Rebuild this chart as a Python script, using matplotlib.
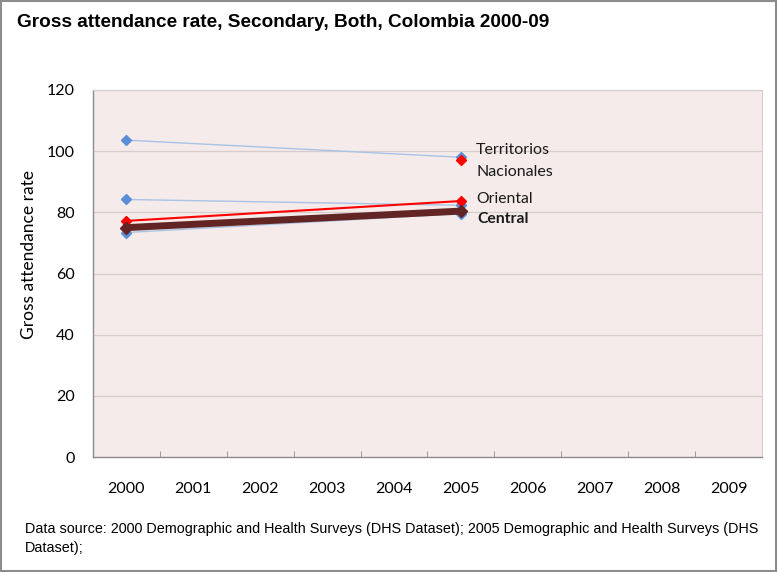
import numpy as np
import matplotlib
matplotlib.use("Agg")
import matplotlib.pyplot as plt
from matplotlib.patches import Rectangle

# Survey years on the category axis
years = ["2000", "2001", "2002", "2003", "2004", "2005", "2006", "2007", "2008", "2009"]

# Gross attendance rate, secondary level, by region (NaN = no survey that year)
other_region_1 = [103.6, np.nan, np.nan, np.nan, np.nan, 98.0, np.nan, np.nan, np.nan, np.nan]
other_region_2 = [84.2, np.nan, np.nan, np.nan, np.nan, 82.3, np.nan, np.nan, np.nan, np.nan]
other_region_3 = [73.4, np.nan, np.nan, np.nan, np.nan, 79.6, np.nan, np.nan, np.nan, np.nan]
territorios = [np.nan, np.nan, np.nan, np.nan, np.nan, 97.1, np.nan, np.nan, np.nan, np.nan]
oriental = [77.2, np.nan, np.nan, np.nan, np.nan, 83.7, np.nan, np.nan, np.nan, np.nan]
central = [75.0, np.nan, np.nan, np.nan, np.nan, 80.4, np.nan, np.nan, np.nan, np.nan]

y_ticks = [0, 20, 40, 60, 80, 100, 120]

body_font = "Lato"
head_font = "Liberation Sans"

fig = plt.figure(figsize=(7.78, 5.72), dpi=100)
fig.patch.set_facecolor("white")
fig.patches.append(Rectangle((0.001, 0.001), 0.997, 0.997, transform=fig.transFigure,
                             fill=False, edgecolor="#8c8c8c", linewidth=1.5))

ax = fig.add_axes([0.1195, 0.2010, 0.8599, 0.6417])
ax.set_facecolor("#F5EBEB")

x = np.arange(len(years))


def connect(vals):
    """Plot only the years that have data, so the segments join across gaps."""
    v = np.array(vals, dtype=float)
    m = ~np.isnan(v)
    return x[m], v[m]


for series in (other_region_1, other_region_2, other_region_3):
    xs, ys = connect(series)
    ax.plot(xs, ys, color="#A9C3E6", linewidth=1.0, marker="D", markersize=5.2,
            markerfacecolor="#5A8ED6", markeredgecolor="#5A8ED6", zorder=3)

xs, ys = connect(territorios)
ax.plot(xs, ys, color="#FF0000", linewidth=1.5, marker="D", markersize=5.6,
        markerfacecolor="#FF0000", markeredgecolor="#FF0000", zorder=4)

xs, ys = connect(oriental)
ax.plot(xs, ys, color="#FF0000", linewidth=1.5, marker="D", markersize=5.6,
        markerfacecolor="#FF0000", markeredgecolor="#FF0000", zorder=4)

xs, ys = connect(central)
ax.plot(xs, ys, color="#632523", linewidth=5, marker="D", markersize=6,
        markerfacecolor="#632523", markeredgecolor="#632523", zorder=5)

# Series labels next to the last data point
ax.annotate("Territorios\nNacionales", (5, territorios[5]), xytext=(11, -1),
            textcoords="offset points", ha="left", va="center", fontsize=11.5,
            family=body_font, linespacing=1.72, color="#1a1a1a")
ax.annotate("Oriental", (5, oriental[5]), xytext=(11, 1.5),
            textcoords="offset points", ha="left", va="center", fontsize=11.3,
            family=body_font, color="#1a1a1a")
ax.annotate("Central", (5, central[5]), xytext=(12, -6),
            textcoords="offset points", ha="left", va="center", fontsize=11.3,
            family=body_font, fontweight="bold", color="#1a1a1a")

ax.set_xlim(-0.5, len(years) - 0.5)
ax.set_ylim(0, 120)
ax.set_yticks(y_ticks)
ax.set_yticklabels([str(t) for t in y_ticks], family=body_font, fontsize=11.5)
ax.set_xticks(x)
ax.set_xticklabels(years, family=body_font, fontsize=11.5)
ax.set_xticks(np.arange(-0.5, len(years)), minor=True)
ax.tick_params(axis="x", which="major", length=0, pad=18)
ax.tick_params(axis="x", which="minor", length=4, direction="in", color="#8c8c8c")
ax.tick_params(axis="y", length=0, pad=13)

ax.yaxis.grid(True, color="#D8CCCC", linewidth=0.9)
ax.set_axisbelow(True)
for side in ("top", "right"):
    ax.spines[side].set_color("#D8CCCC")
    ax.spines[side].set_linewidth(0.8)
for side in ("left", "bottom"):
    ax.spines[side].set_color("#8c8c8c")
    ax.spines[side].set_linewidth(1.0)

ax.set_ylabel("Gross attendance rate", family=body_font, fontsize=12.5)
ax.yaxis.set_label_coords(-0.0835, 0.553)

fig.text(0.022, 0.961, "Gross attendance rate, Secondary, Both, Colombia 2000-09",
         family=head_font, fontweight="bold", fontsize=13.7, ha="left", va="center")

fig.text(0.032, 1 - 522 / 572,
         "Data source: 2000 Demographic and Health Surveys (DHS Dataset); "
         "2005 Demographic and Health Surveys (DHS\nDataset);",
         family=head_font, fontsize=10.4, ha="left", va="top", linespacing=1.45)

fig.savefig("out.png", dpi=100)
